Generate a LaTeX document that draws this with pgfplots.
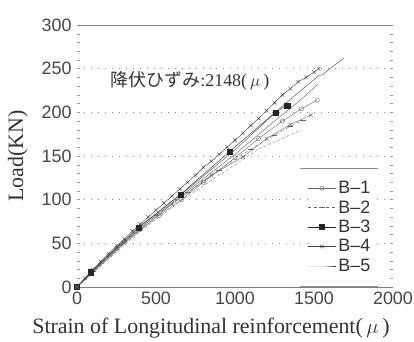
\documentclass[border=0pt]{standalone}
\usepackage{pgfplots}
\pgfplotsset{compat=1.18}
\usepackage{fontspec}
\setmainfont{Liberation Serif}
\setsansfont{Liberation Sans}
\newfontfamily\cjk{Noto Sans CJK JP}
\begin{document}
\begin{tikzpicture}
\begin{axis}[
  name=ax,
  scale only axis, width=316bp, height=262bp,
  xmin=0, xmax=2000, ymin=0, ymax=300,
  xtick={0,500,...,2000}, ytick={0,50,...,300},
  minor y tick num=4,
  tick label style={font=\sffamily\fontsize{18}{20}\selectfont, text=black!72},
  /pgf/number format/assume math mode=true,
  /pgf/number format/1000 sep={},
  separate axis lines,
  y axis line style={draw=none},
  x axis line style={black!50, thin},
  xtick style={draw=none},
  ytick style={black!40, thin},
  major tick length=3bp, minor tick length=3bp,
  ymajorgrids,
  major grid style={dash pattern=on 1pt off 6pt, black!45},
  yticklabel style={xshift=-2bp},
  xticklabel style={yshift=-1bp},
  xlabel={Strain of Longitudinal reinforcement(\,$\mu$\,)},
  ylabel={Load(KN)},
  every axis x label/.style={at={(axis description cs:0.424,-0.156)}, anchor=center,
    font=\fontsize{22}{24}\selectfont, text=black!80},
  every axis y label/.style={at={(axis description cs:-0.187,0.5)}, rotate=90, anchor=center,
    font=\fontsize{22}{24}\selectfont, text=black!80},
  clip=false,
  legend style={at={(rel axis cs:0.832,0.229)}, anchor=center, draw=none, fill=white,
    font=\sffamily\fontsize{18}{20}\selectfont, text=black!80, row sep=1.5pt,
    inner sep=0pt},
  legend cell align=left,
  legend image code/.code={\draw[mark repeat=2,mark phase=2] plot coordinates {(0cm,0cm) (0.5cm,0cm) (1cm,0cm)};},
]
\addplot[black!60, thin, mark=o, mark size=2.2pt, mark options={solid,fill=white}] coordinates {
(0,0)(90,17)(250,44)(400,66)(520,82)(660,100)(800,120)(1000,148)(1150,170)(1300,190)(1420,204)(1520,214)};
\addlegendentry{B–1}
\addplot[black!60, thin, dashed, mark=-, mark size=3pt, mark options={solid}] coordinates {
(0,0)(100,18)(300,52)(500,82)(700,108)(900,134)(1100,158)(1250,174)(1350,184)(1430,191)};
\addlegendentry{B–2}
\addplot[black!85, thin, mark=square*, mark size=2.6pt] coordinates {
(0,0)(85,17)(390,68)(655,106)(965,155)(1255,200)(1330,208)};
\addlegendentry{B–3}
\addplot[black!75, thin, mark=x, mark size=2.6pt] coordinates {
(0,0)(50,10)(100,20)(150,29)(200,38)(250,47)(300,55)(350,64)(400,72)(450,80)(500,88)(550,96)(600,104)(650,112)(700,120)(750,128)(800,137)(850,144)(900,152)(950,160)(1000,168)(1050,176)(1100,185)(1150,193)(1200,202)(1250,211)(1300,220)(1350,227)(1400,235)(1450,240)(1500,246)(1530,250)};
\addlegendentry{B–4}
\addplot[black!75, thin] coordinates {
(0,0)(200,37)(400,70)(700,112)(1000,157)(1300,207)(1450,230)(1530,242)(1555,243)(1600,250)(1690,262)};
\addlegendentry{B–5}
\addplot[black!65, thin, forget plot] coordinates {
(0,0)(400,68)(700,110)(1000,152)(1250,190)(1400,212)(1525,232)};
\addplot[black!60, thin, mark=x, mark size=2.6pt, forget plot] coordinates {
(0,0)(300,50)(600,95)(850,128)(1050,149)(1200,170)(1350,186)(1480,197)};
\addplot[black!50, thin, densely dashed, forget plot] coordinates {
(0,0)(400,64)(700,104)(1000,140)(1150,158)(1300,170)(1420,180)};
\node[font=\fontsize{18}{20}\selectfont, text=black!80] at (axis cs:715,236) {{\cjk 降伏ひずみ}:2148(\,$\mu$\,)};
\draw[black!45, thin] (rel axis cs:0.706,0.454) -- (rel axis cs:0.953,0.454);
\draw[black!45, thin] (rel axis cs:0.706,0.004) -- (rel axis cs:0.953,0.004);
\end{axis}
\pgfresetboundingbox
\path ([xshift=-77bp,yshift=-55bp]ax.south west) rectangle ([xshift=21bp,yshift=25bp]ax.north east);
\end{tikzpicture}
\end{document}
